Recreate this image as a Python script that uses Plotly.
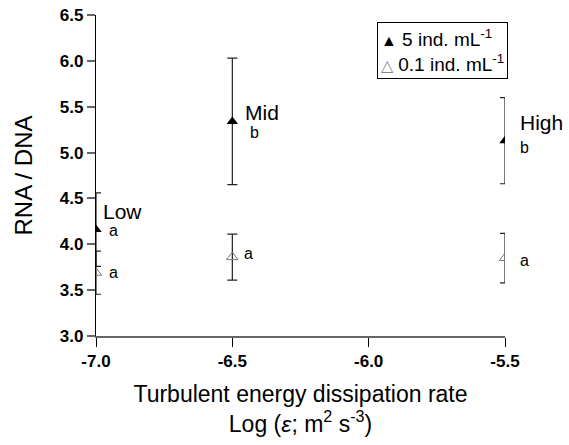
import plotly.graph_objects as go

# Data
x_vals = [-7.0, -6.5, -5.5]
high_density_y = [4.16, 5.34, 5.13]
high_density_err = [0.40, 0.69, 0.47]
low_density_y = [3.69, 3.86, 3.85]
low_density_err = [0.235, 0.25, 0.27]
series_names = ["5 ind. mL<sup>-1</sup>", "0.1 ind. mL<sup>-1</sup>"]
level_labels = ["Low", "Mid", "High"]
high_letters = ["a", "b", "b"]
low_letters = ["a", "a", "a"]
x_ticks = [-7.0, -6.5, -6.0, -5.5]
y_ticks = [3.0, 3.5, 4.0, 4.5, 5.0, 5.5, 6.0, 6.5]

FONT = "Arial, Liberation Sans, sans-serif"

fig = go.Figure()
fig.add_trace(go.Scatter(
    x=x_vals, y=high_density_y, mode="markers", name=series_names[0], showlegend=False,
    marker=dict(symbol="triangle-up", size=10, color="black"),
    error_y=dict(type="data", array=high_density_err, color="#222", thickness=1.2, width=5),
))
fig.add_trace(go.Scatter(
    x=x_vals, y=low_density_y, mode="markers", name=series_names[1], showlegend=False,
    marker=dict(symbol="triangle-up-open", size=10, color="#777", line=dict(width=1)),
    error_y=dict(type="data", array=low_density_err, color="#222", thickness=1.2, width=5),
))

# Level labels and significance letters (offsets relative to the points)
label_dy = [0.20, 0.10, 0.20]
label_dx = [5, 11, 13]
letter_dy = [-0.01, -0.12, -0.07]
letter_dx = [11, 16, 13]
low_letter_dy = [0.0, 0.04, -0.03]
low_letter_dx = [11, 10, 13]
for i in range(3):
    fig.add_annotation(x=x_vals[i], y=high_density_y[i] + label_dy[i], text=level_labels[i],
                       showarrow=False, xanchor="left", xshift=label_dx[i],
                       font=dict(family=FONT, size=21, color="black"))
    fig.add_annotation(x=x_vals[i], y=high_density_y[i] + letter_dy[i], text=high_letters[i],
                       showarrow=False, xanchor="left", xshift=letter_dx[i],
                       font=dict(family=FONT, size=16, color="black"))
    fig.add_annotation(x=x_vals[i], y=low_density_y[i] + low_letter_dy[i], text=low_letters[i],
                       showarrow=False, xanchor="left", xshift=low_letter_dx[i],
                       font=dict(family=FONT, size=16, color="black"))

# Legend box (key drawn as text symbols)
legend_text = (
    '<span style="font-size:16px">▲</span> ' + series_names[0] + '<br>'
    '<span style="font-size:16px;fill:#888">△</span> ' + series_names[1]
)
fig.add_annotation(x=0.688, y=0.978, xref="paper", yref="paper", xanchor="left", yanchor="top",
                   text=legend_text, showarrow=False, align="left",
                   bordercolor="black", borderwidth=1, borderpad=3, bgcolor="white",
                   font=dict(family=FONT, size=19, color="black"))

fig.update_layout(
    width=569, height=445,
    margin=dict(l=96, r=64, t=15, b=109, autoexpand=False),
    plot_bgcolor="white", paper_bgcolor="white",
    font=dict(family=FONT, color="black"),
    showlegend=False,
    xaxis=dict(range=[-7.0, -5.5], tickvals=x_ticks, ticktext=[f"{v:.1f}" for v in x_ticks],
               showline=True, linecolor="#666", linewidth=1.5, ticks="outside",
               ticklen=9, tickcolor="black", tickwidth=1.2, showgrid=False, zeroline=False,
               automargin=False,
               tickfont=dict(family=FONT, size=17, color="black", weight="bold"),
               title=dict(text="Turbulent energy dissipation rate<br>Log (<i>ε</i>; m<sup>2</sup> s<sup>-3</sup>)",
                          font=dict(family=FONT, size=23), standoff=16)),
    yaxis=dict(range=[3.0, 6.5], tickvals=y_ticks, ticktext=[f"{v:.1f}" for v in y_ticks],
               showline=True, linecolor="black", linewidth=1.2, ticks="outside",
               ticklen=8, tickcolor="#666", tickwidth=1.5, showgrid=False, zeroline=False,
               automargin=False,
               tickfont=dict(family=FONT, size=17, color="black", weight="bold"),
               title=dict(text="RNA / DNA", font=dict(family=FONT, size=24), standoff=20)),
)

fig.write_html("out.html", config={"displayModeBar": False},
               post_script="document.body.style.margin='0px';")
